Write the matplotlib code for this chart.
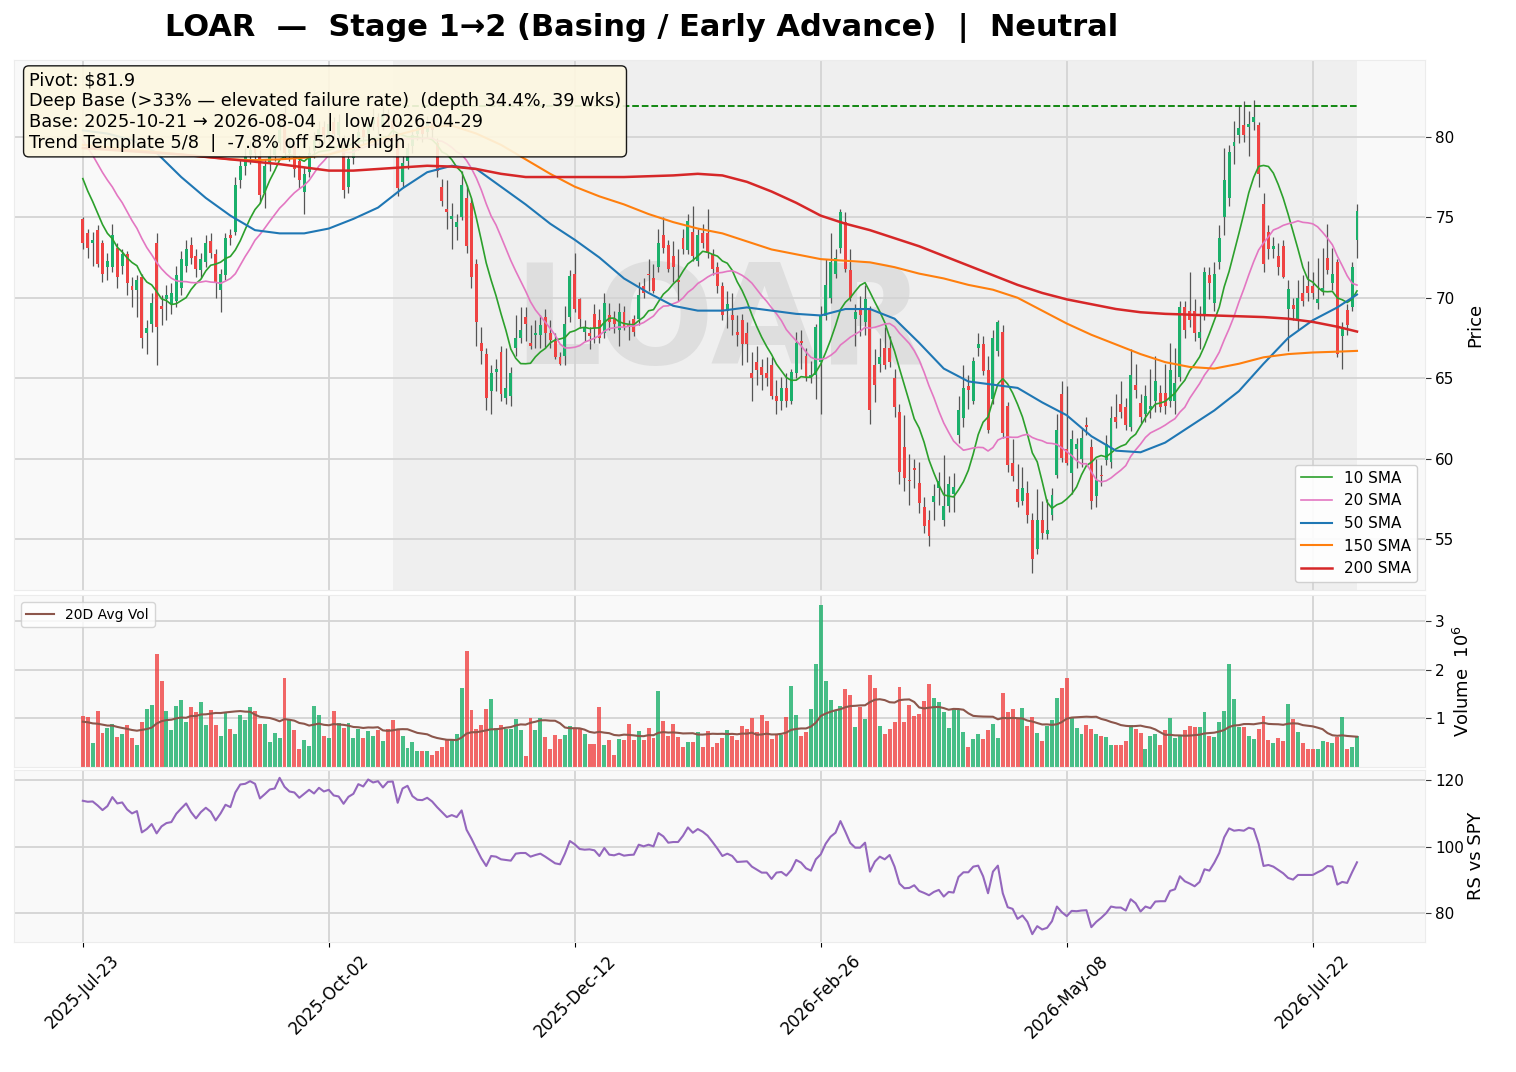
import numpy as np
import pandas as pd
import matplotlib
matplotlib.use("Agg")
import matplotlib.pyplot as plt

# ---- chart text -------------------------------------------------------------
ticker = "LOAR"
title = "LOAR  —  Stage 1→2 (Basing / Early Advance)  |  Neutral"
info_lines = [
    "Pivot: $81.9",
    "Deep Base (>33% — elevated failure rate)  (depth 34.4%, 39 wks)",
    "Base: 2025-10-21 → 2026-08-04  |  low 2026-04-29",
    "Trend Template 5/8  |  -7.8% off 52wk high",
]
pivot = 81.9
base_start = "2025-10-21"

# trading calendar (first session + exchange holidays)
first_day = "2025-07-23"
holidays = ["2025-09-01", "2025-11-27", "2025-12-25", "2026-01-01", "2026-01-19",
            "2026-02-16", "2026-04-03", "2026-05-25", "2026-06-19", "2026-07-03"]

# ---- daily OHLC -------------------------------------------------------------
opens = [
    74.9, 74.0, 73.4, 74.2, 73.4, 71.9, 71.9, 73.1, 72.0, 72.7,
    70.7, 70.5, 71.3, 67.8, 68.4, 73.4, 69.5, 69.9, 69.6, 69.8,
    70.6, 72.0, 73.3, 72.6, 71.7, 72.2, 73.5, 72.7, 70.5, 71.4,
    73.9, 74.1, 77.3, 78.2, 78.9, 79.3, 78.8, 76.5, 78.4, 78.9,
    79.6, 81.5, 79.0, 79.4, 78.5, 76.6, 77.8, 79.1, 79.9, 80.6,
    80.0, 80.9, 80.1, 79.5, 76.9, 78.7, 79.6, 80.4, 80.1, 80.8,
    81.2, 80.7, 81.4, 81.0, 79.6, 77.2, 78.5, 79.4, 80.2, 80.7,
    80.3, 80.9, 79.6, 76.9, 75.5, 74.9, 74.4, 75.0, 76.2, 75.9,
    72.1, 67.2, 66.5, 64.2, 65.4, 66.6, 63.8, 63.9, 66.9, 67.5,
    68.8, 67.2, 67.7, 67.7, 68.8, 67.8, 67.3, 66.3, 66.4, 68.8,
    71.5, 69.9, 67.9, 67.8, 69.0, 68.6, 67.8, 68.9, 68.7, 68.0,
    69.1, 68.3, 68.65, 68.65, 70.7, 71.5, 71.2, 71.9, 73.9, 73.3,
    72.6, 71.1, 73.7, 72.95, 74.1, 72.3, 74.0, 74.05, 72.7, 71.9,
    70.7, 69.15, 68.9, 67.9, 68.6, 67.8, 65.3, 66.0, 65.7, 65.3,
    65.8, 63.9, 63.6, 64.4, 63.6, 65.35, 67.3, 66.4, 65.0, 65.2,
    66.0, 68.85, 70.0, 71.5, 73.1, 74.7, 71.7, 68.7, 69.3, 68.5,
    69.3, 65.8, 65.9, 66.9, 66.9, 65.0, 62.9, 60.7, 58.7, 59.4,
    58.5, 57.0, 56.2, 57.3, 58.2, 56.2, 57.05, 57.8, 61.5, 62.5,
    64.5, 63.6, 66.9, 67.1, 65.5, 63.7, 66.7, 67.9, 63.3, 59.75,
    58.1, 57.4, 57.9, 56.2, 54.4, 56.2, 55.3, 56.5, 59.0, 64.0,
    60.6, 59.1, 60.6, 60.0, 62.1, 60.75, 57.7, 58.95, 59.9, 59.8,
    62.6, 63.4, 63.2, 62.0, 64.6, 63.45, 62.75, 63.1, 63.6, 64.1,
    64.1, 63.6, 63.6, 65.1, 69.45, 69.2, 69.15, 67.5, 69.0, 71.4,
    69.65, 72.2, 75.0, 76.2, 79.4, 80.1, 80.75, 80.6, 80.9, 80.75,
    75.8, 74.1, 73.0, 72.6, 73.2, 69.3, 69.55, 68.7, 70.3, 70.7,
    70.7, 69.7, 70.4, 72.5, 70.9, 72.2, 67.6, 69.25, 69.4, 73.6,
]
highs = [
    75.0, 74.3, 74.1, 74.5, 73.6, 72.8, 74.6, 73.4, 73.0, 72.9,
    71.3, 71.4, 71.5, 68.6, 70.3, 74.0, 70.2, 70.8, 70.9, 72.0,
    72.9, 73.6, 73.8, 73.0, 72.8, 73.9, 74.0, 73.0, 71.8, 74.0,
    74.3, 77.5, 78.6, 79.3, 79.8, 79.9, 79.2, 78.6, 79.3, 80.2,
    81.0, 82.0, 80.0, 79.6, 78.9, 78.1, 79.4, 80.3, 81.0, 81.0,
    81.3, 81.2, 81.4, 80.1, 78.9, 79.9, 80.8, 80.7, 81.3, 81.8,
    81.5, 81.9, 81.7, 81.3, 80.0, 78.8, 79.6, 80.5, 81.1, 81.0,
    81.3, 81.2, 79.9, 77.4, 77.3, 75.9, 75.2, 77.9, 77.0, 76.2,
    72.4, 68.2, 66.9, 65.8, 66.2, 67.0, 66.9, 65.7, 68.9, 69.4,
    69.4, 68.3, 68.6, 68.9, 69.3, 68.6, 67.8, 66.6, 69.5, 71.7,
    72.8, 70.0, 68.6, 68.2, 69.6, 69.3, 70.3, 69.7, 69.2, 69.7,
    69.5, 68.6, 68.9, 71.0, 71.2, 72.4, 72.1, 74.3, 75.0, 73.6,
    73.5, 73.0, 74.3, 75.2, 75.7, 74.3, 74.6, 75.5, 73.0, 72.2,
    71.0, 70.4, 70.3, 68.9, 69.0, 68.5, 66.6, 67.0, 66.2, 66.3,
    66.3, 64.9, 65.1, 65.3, 65.6, 67.9, 68.0, 66.9, 66.1, 68.4,
    69.5, 72.4, 74.0, 73.0, 75.5, 75.3, 73.0, 69.6, 70.1, 70.8,
    69.5, 66.8, 67.5, 68.2, 67.6, 65.6, 63.4, 62.7, 60.3, 60.0,
    59.8, 57.6, 56.8, 58.4, 59.2, 60.25, 58.9, 59.1, 63.9, 65.8,
    65.2, 66.3, 67.8, 67.6, 66.4, 68.0, 68.6, 68.3, 63.5, 61.2,
    59.7, 59.5, 58.6, 56.6, 58.1, 57.4, 57.5, 58.2, 62.8, 64.8,
    64.5, 61.8, 61.3, 61.9, 62.6, 61.2, 60.0, 59.6, 61.5, 63.3,
    64.0, 64.8, 63.8, 66.8, 65.9, 64.0, 64.6, 65.6, 66.4, 64.6,
    65.9, 67.2, 66.9, 69.8, 69.8, 71.6, 69.9, 69.5, 71.9, 71.9,
    72.2, 74.5, 79.3, 79.5, 81.0, 81.9, 82.2, 81.6, 82.3, 80.9,
    76.5, 74.5, 73.8, 73.4, 73.6, 71.1, 70.0, 71.1, 71.4, 72.3,
    71.6, 72.5, 73.1, 74.6, 73.1, 72.4, 68.5, 69.6, 72.2, 75.8,
]
lows = [
    73.0, 72.5, 72.0, 71.9, 71.0, 71.1, 71.6, 70.6, 71.5, 70.2,
    69.4, 68.8, 66.9, 66.5, 67.9, 65.8, 68.3, 68.6, 69.0, 69.4,
    70.2, 71.6, 72.1, 71.3, 71.2, 71.9, 72.5, 70.0, 69.1, 71.1,
    73.3, 73.9, 76.8, 77.6, 78.3, 78.6, 75.9, 75.6, 77.9, 78.5,
    79.2, 78.6, 78.5, 77.5, 76.8, 75.2, 77.5, 78.7, 79.5, 79.6,
    79.7, 79.9, 79.8, 76.2, 76.5, 78.3, 79.2, 79.5, 79.8, 80.4,
    80.1, 80.4, 80.6, 80.0, 76.3, 76.9, 78.0, 79.0, 79.8, 79.7,
    80.0, 79.9, 77.5, 75.7, 74.3, 73.0, 73.6, 74.8, 72.8, 70.6,
    67.0, 65.9, 63.0, 62.8, 64.2, 63.6, 63.4, 63.3, 66.4, 67.2,
    67.3, 66.8, 66.9, 66.9, 66.9, 66.9, 66.2, 65.8, 65.8, 68.5,
    69.1, 68.1, 67.3, 66.8, 67.2, 67.2, 67.5, 68.0, 67.8, 67.0,
    68.0, 67.4, 67.6, 68.3, 70.0, 70.4, 70.3, 71.6, 72.8, 71.6,
    71.0, 69.8, 72.7, 72.7, 72.3, 72.0, 73.1, 72.5, 71.4, 70.3,
    68.6, 68.1, 67.7, 67.0, 65.8, 66.0, 63.6, 64.6, 64.3, 64.5,
    63.7, 62.8, 63.0, 63.2, 63.4, 65.0, 65.6, 64.8, 64.7, 63.7,
    62.8, 68.6, 69.7, 71.2, 72.8, 71.6, 69.8, 67.0, 67.6, 67.7,
    62.15, 63.5, 65.4, 65.6, 65.7, 62.6, 58.4, 58.0, 57.1, 58.2,
    56.6, 55.4, 54.6, 56.2, 57.1, 55.8, 56.7, 56.7, 61.0, 62.0,
    63.1, 63.4, 66.4, 65.2, 61.6, 63.4, 66.4, 61.3, 59.2, 58.6,
    57.0, 57.1, 56.0, 52.9, 54.1, 55.0, 55.0, 56.2, 58.8, 59.8,
    59.6, 57.8, 59.4, 59.5, 61.5, 56.9, 57.0, 58.3, 59.6, 59.4,
    61.9, 62.5, 61.8, 61.7, 63.8, 62.2, 62.3, 62.5, 62.9, 62.9,
    62.8, 63.2, 62.8, 64.8, 67.5, 68.2, 67.3, 66.8, 68.6, 69.9,
    69.2, 71.8, 73.9, 75.7, 78.3, 79.6, 79.7, 78.8, 80.4, 76.9,
    71.6, 72.4, 72.5, 71.4, 71.2, 66.7, 68.6, 68.0, 69.5, 69.8,
    69.9, 69.3, 70.2, 71.5, 70.5, 66.3, 65.6, 67.7, 69.2, 72.5,
]
closes = [
    73.4, 73.1, 73.6, 72.1, 71.5, 72.3, 73.9, 71.3, 72.7, 70.9,
    70.5, 71.1, 67.5, 68.1, 69.7, 68.2, 69.3, 70.2, 70.3, 71.4,
    72.4, 73.0, 72.5, 71.8, 72.4, 73.4, 72.8, 70.9, 71.5, 73.7,
    73.7, 77.0, 78.2, 78.8, 79.2, 79.0, 76.4, 78.2, 78.8, 79.6,
    80.4, 79.0, 79.4, 78.0, 77.3, 77.7, 79.0, 79.8, 80.5, 80.1,
    80.8, 80.2, 80.9, 76.7, 78.6, 79.5, 80.3, 80.0, 80.8, 81.2,
    80.6, 81.4, 81.0, 80.5, 76.8, 78.4, 79.3, 80.1, 80.6, 80.2,
    80.9, 80.4, 77.9, 76.0, 75.3, 75.1, 74.7, 77.0, 73.2, 71.3,
    68.5, 66.7, 63.8, 65.3, 65.6, 64.0, 64.4, 65.3, 67.5, 68.0,
    68.4, 67.0, 67.8, 68.3, 67.8, 67.4, 66.3, 65.9, 68.35, 71.35,
    69.3, 68.7, 68.2, 67.6, 68.1, 67.5, 69.7, 68.5, 68.4, 69.1,
    68.2, 68.2, 67.9, 70.2, 70.3, 71.4, 70.4, 73.4, 73.1, 71.8,
    71.9, 71.0, 73.0, 74.75, 72.6, 73.9, 73.4, 72.8, 71.8, 70.7,
    68.9, 69.6, 68.6, 67.7, 67.15, 67.1, 65.0, 65.5, 65.2, 65.0,
    63.9, 63.6, 64.4, 63.6, 65.4, 67.2, 67.2, 65.1, 65.2, 68.2,
    68.9, 70.8, 72.2, 72.5, 75.3, 71.8, 70.0, 69.1, 68.9, 69.9,
    63.0, 64.6, 66.3, 65.8, 66.0, 63.2, 59.2, 58.8, 58.6, 59.3,
    57.25, 55.85, 55.2, 57.7, 58.6, 57.05, 58.45, 58.25, 63.0, 64.4,
    64.3, 66.1, 67.1, 65.45, 61.8, 67.5, 68.5, 61.6, 59.6, 58.9,
    57.3, 58.2, 56.5, 53.75, 56.2, 55.4, 55.6, 57.75, 61.8, 60.05,
    59.75, 61.25, 60.9, 61.3, 61.95, 57.4, 58.7, 58.9, 60.9, 62.5,
    62.3, 62.9, 62.1, 65.2, 64.3, 62.6, 63.9, 63.3, 64.8, 63.2,
    63.3, 65.5, 64.7, 69.45, 68.0, 68.6, 67.8, 67.9, 71.6, 70.9,
    71.5, 73.7, 77.3, 79.05, 79.7, 80.55, 80.1, 80.8, 81.2, 77.7,
    72.1, 73.05, 73.2, 71.9, 71.3, 70.55, 69.3, 70.0, 69.8, 70.3,
    70.3, 69.9, 70.6, 71.7, 71.5, 66.5, 68.15, 68.3, 71.9, 75.4,
]
# volume in millions of shares
volumes = [
    1.05, 1.03, 0.49, 1.16, 0.69, 0.80, 0.89, 0.61, 0.67, 0.87,
    0.59, 0.46, 0.93, 1.20, 1.28, 2.33, 1.77, 1.14, 0.76, 1.26,
    1.38, 0.93, 1.24, 1.12, 1.34, 0.87, 1.18, 0.87, 0.64, 1.13,
    0.79, 0.67, 1.07, 0.97, 1.23, 1.14, 0.89, 0.89, 0.51, 0.69,
    0.60, 1.83, 0.97, 0.76, 0.38, 0.55, 0.44, 1.25, 1.07, 0.63,
    0.60, 1.16, 0.91, 0.81, 0.91, 0.59, 0.78, 0.59, 0.73, 0.63,
    0.75, 0.53, 0.78, 0.97, 0.78, 0.64, 0.39, 0.52, 0.32, 0.32,
    0.32, 0.24, 0.32, 0.42, 0.57, 0.55, 0.68, 1.62, 2.38, 1.17,
    0.78, 0.87, 1.20, 1.40, 0.81, 0.87, 0.78, 0.78, 0.99, 0.75,
    0.22, 1.00, 0.75, 1.00, 0.61, 0.37, 0.65, 0.58, 0.65, 0.85,
    0.81, 0.80, 0.67, 0.48, 0.47, 1.24, 0.45, 0.55, 0.25, 0.57,
    0.55, 0.89, 0.55, 0.73, 0.55, 0.81, 0.60, 1.57, 0.95, 0.64,
    0.89, 0.62, 0.42, 0.52, 0.52, 0.71, 0.42, 0.73, 0.42, 0.50,
    0.60, 0.77, 0.64, 0.55, 0.84, 0.78, 1.01, 0.72, 1.07, 0.95,
    0.57, 0.65, 0.65, 1.03, 1.66, 1.07, 0.63, 0.72, 1.20, 2.11,
    3.33, 1.77, 1.38, 1.18, 1.25, 1.60, 1.48, 0.83, 1.24, 0.99,
    1.89, 1.62, 0.85, 0.67, 0.79, 0.93, 1.64, 0.93, 1.28, 1.05,
    1.09, 1.35, 1.70, 1.41, 1.33, 1.12, 0.81, 1.17, 1.18, 0.71,
    0.42, 0.57, 0.67, 0.57, 0.75, 0.89, 0.59, 1.52, 1.12, 1.20,
    0.99, 1.21, 0.85, 1.03, 0.69, 0.53, 0.85, 0.97, 1.42, 1.62,
    1.82, 1.01, 0.81, 0.67, 0.87, 0.79, 0.67, 0.63, 0.61, 0.46,
    0.46, 0.46, 0.53, 0.86, 0.79, 0.69, 0.38, 0.63, 0.67, 0.46,
    0.77, 1.01, 0.59, 0.64, 0.75, 0.85, 0.83, 0.83, 1.12, 0.64,
    0.61, 0.93, 1.14, 2.11, 1.40, 0.83, 0.83, 0.64, 0.57, 0.79,
    1.05, 0.55, 0.49, 0.59, 0.53, 1.30, 0.99, 0.72, 0.49, 0.38,
    0.37, 0.38, 0.53, 0.52, 0.49, 0.61, 1.03, 0.37, 0.42, 0.63,
]
# relative strength vs SPY
rs_spy = [
    113.8, 113.5, 113.6, 112.4, 111.0, 112.2, 114.9, 113.0, 113.3, 111.2,
    110.0, 110.7, 104.3, 105.3, 106.8, 104.0, 106.1, 107.1, 107.4, 109.9,
    111.5, 113.0, 110.4, 108.5, 110.4, 111.7, 110.5, 107.9, 110.0, 112.6,
    111.9, 116.3, 118.7, 118.9, 119.7, 118.9, 114.5, 115.8, 117.2, 117.5,
    120.7, 118.0, 116.6, 116.3, 114.7, 115.9, 117.1, 116.0, 117.7, 116.6,
    117.1, 115.4, 115.1, 112.9, 115.0, 115.9, 118.8, 118.1, 120.2, 119.3,
    119.7, 117.8, 119.5, 119.6, 113.2, 117.5, 118.3, 115.2, 114.1, 114.0,
    114.7, 113.6, 111.9, 110.4, 108.9, 109.5, 108.9, 110.9, 105.1, 102.4,
    99.4, 96.5, 94.2, 97.2, 97.0, 96.2, 96.0, 95.8, 97.9, 98.1,
    98.1, 97.0, 97.5, 97.9, 97.0, 96.0, 95.0, 94.7, 97.9, 101.7,
    100.7, 99.3, 99.1, 99.2, 98.9, 97.2, 99.6, 97.6, 97.4, 97.9,
    97.3, 97.5, 97.6, 100.6, 100.1, 100.6, 100.1, 104.1, 103.1, 101.2,
    101.4, 101.4, 103.3, 105.8, 104.2, 105.3, 104.5, 103.3, 101.4, 99.4,
    97.2, 97.9, 97.2, 95.4, 95.5, 95.6, 94.0, 93.1, 92.2, 92.2,
    90.3, 92.2, 92.4, 91.3, 93.0, 96.0, 95.2, 93.5, 92.8, 96.2,
    97.7, 100.9, 103.0, 104.2, 107.7, 104.5, 101.1, 99.7, 99.7, 101.2,
    92.5, 95.5, 97.0, 96.2, 97.5, 94.0, 88.9, 87.5, 87.6, 88.4,
    86.7, 86.1, 85.4, 86.4, 87.0, 85.0, 86.4, 86.2, 90.9, 92.3,
    92.3, 94.0, 94.3, 91.1, 86.0, 92.5, 94.3, 86.0, 81.8, 81.3,
    78.3, 79.3, 77.4, 73.7, 76.1, 75.1, 75.6, 77.6, 82.0, 80.3,
    79.1, 80.7, 80.6, 80.8, 80.9, 75.8, 77.4, 78.6, 80.0, 82.0,
    81.7, 81.7, 80.8, 84.2, 83.0, 80.5, 82.0, 81.5, 83.5, 83.6,
    83.6, 86.7, 87.2, 91.1, 89.6, 88.9, 88.1, 89.4, 93.2, 92.8,
    95.2, 98.1, 102.8, 105.5, 104.8, 105.0, 104.8, 105.7, 105.3, 100.9,
    94.2, 94.5, 94.0, 93.0, 92.0, 90.6, 90.1, 91.5, 91.5, 91.5,
    91.5, 92.3, 93.0, 94.2, 94.0, 88.6, 89.4, 89.1, 92.3, 95.3,
]

# sessions before the window (needed for the short averages at the left edge)
pre_closes = [83.0, 82.6, 82.9, 82.1, 81.8, 82.4, 81.9, 81.6, 82.0, 81.7,
              80.8, 80.1, 79.3, 78.6, 77.8, 77.2, 76.6, 75.6, 74.6]
pre_volumes = [1.25, 0.95, 1.30, 1.05, 1.20, 0.90, 1.15, 1.10, 1.25, 1.05,
               0.75, 0.60, 0.85, 0.70, 0.65, 0.80, 0.70, 0.60, 0.70]

# long moving averages, read every 5 sessions
sma_idx = [0, 5, 10, 15, 20, 25, 30, 35, 40, 45, 50, 55, 60, 65, 70, 75, 80, 85,
           90, 95, 100, 105, 110, 115, 120, 125, 130, 135, 140, 145, 150, 155, 160,
           165, 170, 175, 180, 185, 190, 195, 200, 205, 210, 215, 220, 225, 230,
           235, 240, 245, 250, 255, 259]
sma50 = [80.4, 80.2, 79.8, 79.0, 77.5, 76.2, 75.1, 74.2, 74.0, 74.0, 74.3, 74.9,
         75.6, 76.8, 77.8, 78.2, 78.0, 76.9, 75.8, 74.6, 73.6, 72.5, 71.2, 70.3,
         69.5, 69.2, 69.2, 69.4, 69.2, 69.0, 68.9, 69.3, 69.3, 68.7, 67.2, 65.6,
         64.8, 64.6, 64.4, 63.5, 62.7, 61.4, 60.5, 60.4, 61.0, 62.0, 63.0, 64.2,
         65.9, 67.5, 68.6, 69.4, 70.2]
sma150 = [79.5, 79.35, 79.2, 79.05, 78.9, 78.75, 78.6, 78.55, 78.6, 78.7, 78.9,
          79.3, 79.8, 80.2, 80.6, 80.7, 80.2, 79.5, 78.6, 77.7, 76.9, 76.3, 75.8,
          75.2, 74.7, 74.3, 74.0, 73.5, 73.0, 72.7, 72.4, 72.3, 72.2, 71.9, 71.5,
          71.2, 70.8, 70.5, 70.0, 69.2, 68.4, 67.7, 67.1, 66.5, 66.0, 65.7, 65.6,
          65.9, 66.3, 66.5, 66.6, 66.65, 66.7]
sma200 = [79.3, 79.2, 79.1, 79.0, 78.9, 78.75, 78.6, 78.45, 78.3, 78.1, 77.9, 77.9,
          78.0, 78.1, 78.2, 78.15, 78.0, 77.7, 77.5, 77.5, 77.5, 77.5, 77.5, 77.55,
          77.6, 77.7, 77.6, 77.2, 76.6, 75.9, 75.1, 74.6, 74.2, 73.7, 73.2, 72.6,
          72.0, 71.4, 70.8, 70.3, 69.9, 69.6, 69.3, 69.1, 69.0, 68.95, 68.9, 68.85,
          68.8, 68.7, 68.5, 68.2, 67.9]

# ---- derived series ---------------------------------------------------------
o = np.array(opens)
h = np.array(highs)
l = np.array(lows)
c = np.array(closes)
v = np.array(volumes)
n = len(c)
x = np.arange(n)
dates = pd.bdate_range(first_day, periods=n, freq="C", holidays=holidays)
base_i = dates.get_loc(pd.Timestamp(base_start))

full_close = pd.Series(pre_closes + closes)
sma10 = full_close.rolling(10).mean().to_numpy()[-n:]
sma20 = full_close.rolling(20).mean().to_numpy()[-n:]
avg_vol = pd.Series(pre_volumes + volumes).rolling(20).mean().to_numpy()[-n:]

up_color = "#1bb06b"
down_color = "#ef4343"
up = c >= o
bar_colors = np.where(up, up_color, down_color)

# ---- figure -----------------------------------------------------------------
fig = plt.figure(figsize=(15.16, 10.72), dpi=100)
left, width = 0.0092, 0.9307
ax1 = fig.add_axes([left, 0.4496, width, 0.4944])
ax2 = fig.add_axes([left, 0.2845, width, 0.1604], sharex=ax1)
ax3 = fig.add_axes([left, 0.1213, width, 0.1604], sharex=ax1)

for ax in (ax1, ax2, ax3):
    ax.set_facecolor("#f9f9f9")
    ax.grid(True, color="#d4d4d4", lw=1.3)
    ax.set_axisbelow(True)
    ax.yaxis.tick_right()
    ax.yaxis.set_label_position("right")
    ax.tick_params(axis="y", labelsize=11, length=4, color="#333333")
    for s in ax.spines.values():
        s.set_color("#ececec")

# price panel
ax1.axvspan(base_i, n - 1, color="gray", alpha=0.08, lw=0, zorder=0)
ax1.text(0.5, 0.5, ticker, transform=ax1.transAxes, fontsize=100, fontweight="bold",
         color="gray", alpha=0.15, ha="center", va="center", zorder=0)
ax1.vlines(x, l, h, color="#555555", lw=0.9, zorder=2)
ax1.bar(x, np.maximum(np.abs(c - o), 0.06), bottom=np.minimum(o, c), width=0.6,
        color=bar_colors, zorder=3)
ax1.plot(x, sma10, color="tab:green", lw=1.2, label="10 SMA", zorder=4)
ax1.plot(x, sma20, color="tab:pink", lw=1.2, label="20 SMA", zorder=4)
ax1.plot(sma_idx, sma50, color="tab:blue", lw=1.5, label="50 SMA", zorder=4)
ax1.plot(sma_idx, sma150, color="tab:orange", lw=1.5, label="150 SMA", zorder=4)
ax1.plot(sma_idx, sma200, color="tab:red", lw=1.8, label="200 SMA", zorder=4)
ax1.hlines(pivot, base_i, n - 1, colors="green", linestyles="--", lw=1.3, zorder=4)
ax1.set_ylim(l.min() * 0.98, h.max() * 1.03)
ax1.set_xlim(-14, 272.8)
ax1.set_ylabel("Price", fontsize=13, labelpad=8)
ax1.legend(loc="lower right", fontsize=11, framealpha=0.9)
ax1.text(0.0106, 0.979, "\n".join(info_lines), transform=ax1.transAxes, va="top",
         ha="left", fontsize=12.8, zorder=10,
         bbox=dict(boxstyle="round,pad=0.3", fc="#fdf7e1", ec="black", alpha=0.9))

# volume panel
ax2.bar(x, v, width=0.8, color=bar_colors, alpha=0.8)
ax2.plot(x, avg_vol, color="tab:brown", lw=1.5, label="20D Avg Vol")
ax2.set_ylim(0, v.max() * 1.06)
ax2.set_yticks([1, 2, 3])
ax2.set_ylabel("Volume  $10^6$", fontsize=13, labelpad=6)
ax2.legend(loc="upper left", fontsize=10)

# relative strength panel
ax3.plot(x, rs_spy, color="tab:purple", lw=1.5)
ax3.set_ylabel("RS vs SPY", fontsize=13, labelpad=2)

tick_pos = list(range(0, n, 50))
ax3.set_xticks(tick_pos)
ax3.set_xticklabels([dates[i].strftime("%Y-%b-%d") for i in tick_pos],
                    rotation=45, fontsize=12)
for ax in (ax1, ax2):
    ax.tick_params(axis="x", labelbottom=False, length=0)

fig.text(0.423, 0.974, title, ha="center", va="center", fontsize=22, fontweight="bold")

fig.savefig("out.png", dpi=100)
